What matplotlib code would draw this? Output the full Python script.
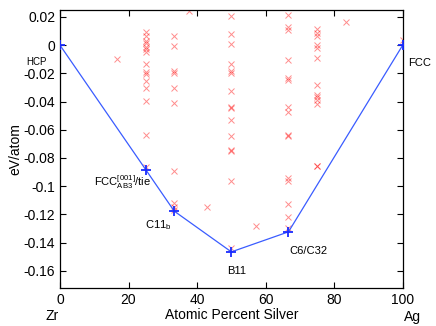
"""Formation energies of Zr-Ag structures with the convex hull."""

import matplotlib
matplotlib.use("Agg")
import matplotlib.pyplot as plt
from matplotlib.ticker import FormatStrFormatter

plt.rcParams["font.family"] = ["Liberation Sans", "DejaVu Sans"]
plt.rcParams["mathtext.fontset"] = "custom"
plt.rcParams["mathtext.rm"] = "Liberation Sans"
plt.rcParams["mathtext.it"] = "Liberation Sans"

# convex hull (ground states)
hull_x = [0, 25, 100 / 3, 50, 200 / 3, 100]
hull_y = [0.0, -0.0882, -0.1177, -0.1466, -0.1324, 0.0]

# all computed structures (atomic % Ag, eV/atom)
x25 = [0.0094, 0.0064, 0.003, 0.0012, -0.0012, -0.003, -0.0047, -0.013,
       -0.019, -0.0206, -0.0255, -0.0307, -0.0395, -0.0638, -0.0863]
x33 = [0.0064, -0.0005, -0.018, -0.020, -0.0307, -0.041, -0.089,
       -0.112, -0.115, -0.117]
x50 = [0.0208, 0.0078, 0.0007, -0.013, -0.0182, -0.0196, -0.0324, -0.0437,
       -0.0449, -0.053, -0.0645, -0.074, -0.075, -0.096, -0.144]
x67 = [0.0213, 0.013, 0.0106, -0.0106, -0.0236, -0.0248, -0.0437, -0.0473,
       -0.0638, -0.0945, -0.0645, -0.096, -0.1128, -0.1217, -0.130]
x75 = [0.0118, 0.009, 0.0066, 0.0, -0.0023, -0.0094, -0.0284, -0.035,
       -0.0367, -0.039, -0.0418, -0.0856, -0.0858]
others_x = [100 / 6, 37.5, 300 / 7, 400 / 7, 250 / 3, 100]
others_y = [-0.0099, 0.024, -0.115, -0.128, 0.0165, 0.004]

scatter_x = ([25] * len(x25) + [100 / 3] * len(x33) + [50] * len(x50)
             + [200 / 3] * len(x67) + [75] * len(x75) + others_x)
scatter_y = x25 + x33 + x50 + x67 + x75 + others_y

labels = ["HCP", "FCC", r"FCC$^{[001]}_{\mathrm{AB3}}$/tie", r"C11$_{\mathrm{b}}$",
          "B11", "C6/C32"]
label_x = [-6.8, 105, 10.0, 28.7, 51.4, 72.4]
label_y = [-0.0122, -0.0128, -0.0969, -0.1276, -0.160, -0.146]
label_size = [7, 8, 8, 8, 8, 8]
label_ha = ["center", "center", "left", "center", "center", "center"]

fig = plt.figure(figsize=(4.36, 3.26), dpi=100)
ax = fig.add_axes([0.1376, 0.1175, 0.786, 0.852])

ax.plot(scatter_x, scatter_y, "x", color="red", alpha=0.45,
        markersize=4.5, markeredgewidth=0.7, zorder=2)
ax.plot(hull_x, hull_y, "-", color="#3a5cff", linewidth=0.9, zorder=3)
ax.plot(hull_x, hull_y, "+", color="#1a2cff", markersize=7,
        markeredgewidth=1.3, zorder=4)

for t, tx, ty, fs, ha in zip(labels, label_x, label_y, label_size, label_ha):
    ax.text(tx, ty, t, fontsize=fs, ha=ha, va="center", clip_on=False)

ax.set_xlim(0, 100)
ax.set_ylim(-0.172, 0.025)
ax.set_xticks(range(0, 101, 20))
ax.set_yticks([0.02 - 0.02 * i for i in range(10)])
ax.yaxis.set_major_formatter(FormatStrFormatter("%g"))
ax.tick_params(direction="in", length=4, width=0.8, labelsize=10,
               top=True, right=True)
for s in ax.spines.values():
    s.set_linewidth(0.9)

ax.set_ylabel("eV/atom", fontsize=10, labelpad=1)
ax.set_xlabel("Atomic Percent Silver", fontsize=10, labelpad=1)
fig.text(52 / 436, 1 - 316 / 326, "Zr", fontsize=10, ha="center", va="center")
fig.text(412 / 436, 1 - 316.5 / 326, "Ag", fontsize=10, ha="center", va="center")

fig.savefig("out.png", dpi=100)
